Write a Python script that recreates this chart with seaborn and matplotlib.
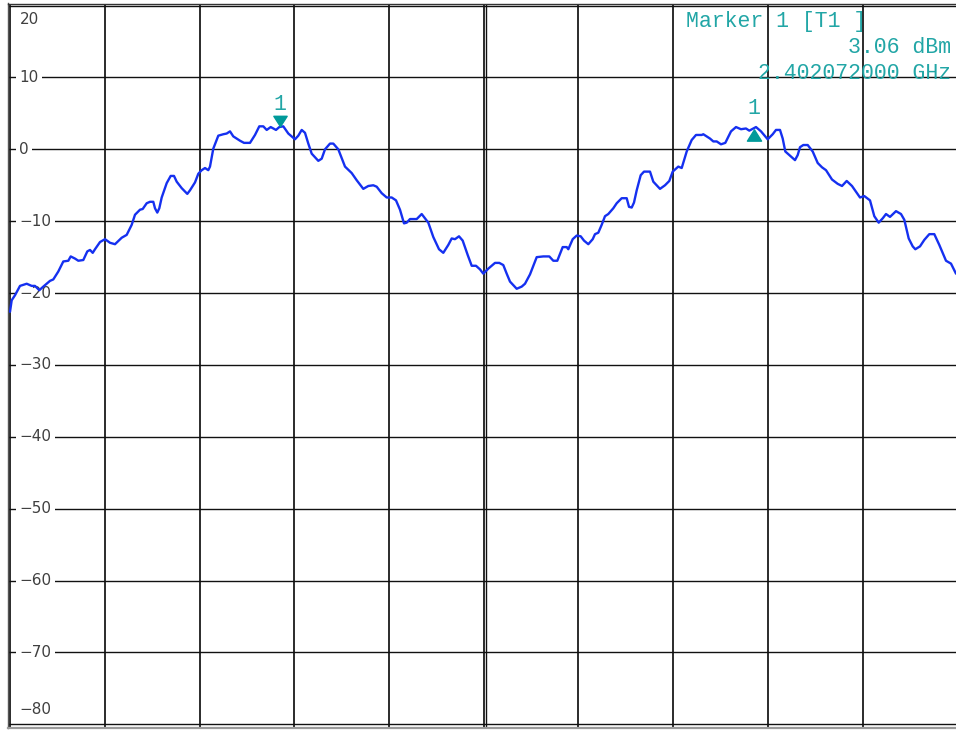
import matplotlib
matplotlib.use("Agg")
import matplotlib.pyplot as plt
from matplotlib.path import Path
from matplotlib.transforms import offset_copy
import numpy as np
import pandas as pd
import seaborn as sns

# Trace: sweep position (points from left graticule edge) and level in dBm
sweep_pt = [0, 1.7, 5, 10, 16.7, 21.7, 25, 29.3, 33.3, 36.7, 40, 43.3, 48.3, 53.3,
            58.3, 60.7, 65, 68.3, 73.3, 77.3, 80, 82.7, 85, 90, 95, 100, 105, 111.7,
            116.7, 121.7, 125, 130, 132.7, 136.7, 140, 143.3, 145, 147.3, 149.3, 151.7,
            156.7, 160.7, 164, 166.7, 171.7, 177.3, 180, 185, 188.3, 191.7, 195, 198.3,
            200, 203.3, 208.3, 213.3, 216.7, 220, 223.3, 230, 234, 240, 245, 249.3,
            253.3, 256.7, 260.7, 263.3, 266, 269.3, 273.3, 278.3, 285, 288.3, 291.7,
            295, 298.3, 301.7, 308.3, 311.7, 315, 320, 323.3, 328.3, 335, 341.7, 346.7,
            353.3, 358.3, 363.3, 366.7, 371.7, 376.7, 381.7, 386, 390, 394, 396.7, 400,
            406.7, 411.7, 418.3, 423.3, 429, 433.3, 438.3, 441.7, 445, 449, 452.7, 457.7,
            461.7, 466, 470, 473.3, 478.3, 485, 489.3, 493.3, 496.7, 500, 506.7, 511.7,
            515, 520, 526.7, 533.3, 539.3, 543.3, 547.3, 552.7, 556.7, 558.3, 562.7,
            566.7, 570.7, 574, 578.3, 582.7, 585, 588.3, 591.7, 595, 598.3, 603.3, 606.7,
            611.7, 616.7, 619, 621.7, 624, 626.7, 630.7, 634, 640, 643.3, 650, 655,
            659.3, 662.7, 668.3, 671.7, 676.7, 681.7, 686, 691.7, 693.3, 700, 703.3,
            706.7, 711, 715.3, 721, 726, 731, 736, 739.3, 746, 751, 757.7, 762.7, 766,
            770, 772.7, 775.3, 779.3, 785, 787.7, 790, 793.3, 797.7, 802.7, 807.7, 812,
            816, 822, 827.7, 832, 836.7, 842, 846, 850, 854.3, 860, 864.3, 868.7, 872.7,
            876, 880, 886, 891, 894.3, 898.7, 902.7, 905.3, 910, 914.3, 919.3, 924.3,
            929.3, 936, 941, 946]
level_dbm = [-22.6, -21.0, -20.3, -19.0, -18.7, -19.0, -19.0, -19.6, -19.1, -18.7,
             -18.3, -18.1, -17.0, -15.6, -15.5, -14.9, -15.2, -15.5, -15.4, -14.2,
             -14.0, -14.4, -13.9, -12.9, -12.5, -13.0, -13.2, -12.3, -11.9, -10.5,
             -9.1, -8.4, -8.3, -7.5, -7.3, -7.3, -8.2, -8.8, -8.2, -6.7, -4.7, -3.7,
             -3.7, -4.5, -5.4, -6.2, -5.7, -4.6, -3.4, -2.9, -2.6, -2.9, -2.4, 0.1,
             1.9, 2.1, 2.2, 2.5, 1.8, 1.2, 0.9, 0.9, 2.0, 3.2, 3.2, 2.7, 3.1, 2.9,
             2.7, 3.1, 3.2, 2.2, 1.4, 1.9, 2.7, 2.3, 0.8, -0.6, -1.6, -1.3, 0.0, 0.8,
             0.8, 0.0, -2.4, -3.3, -4.3, -5.5, -5.1, -5.0, -5.2, -6.1, -6.7, -6.7,
             -7.1, -8.4, -10.3, -10.2, -9.7, -9.7, -9.0, -10.2, -12.2, -13.9, -14.4,
             -13.3, -12.4, -12.5, -12.1, -12.7, -14.7, -16.2, -16.2, -16.7, -17.3,
             -16.6, -15.8, -15.8, -16.1, -17.3, -18.4, -19.4, -19.1, -18.7, -17.4,
             -15.0, -14.9, -14.9, -15.5, -15.5, -13.6, -13.6, -13.9, -12.5, -12.0,
             -12.1, -12.7, -13.2, -12.5, -11.8, -11.6, -10.5, -9.3, -9.0, -8.2, -7.5,
             -6.8, -6.8, -8.0, -8.1, -7.4, -5.7, -3.6, -3.1, -3.1, -4.5, -5.5, -5.0,
             -4.4, -3.1, -2.4, -2.6, -0.3, 1.3, 2.0, 2.0, 2.1, 1.5, 1.1, 1.1, 0.7,
             0.9, 2.5, 3.1, 2.8, 2.9, 2.6, 3.1, 2.5, 1.4, 2.1, 2.7, 2.7, 1.5, -0.3,
             -0.8, -1.5, -0.8, 0.3, 0.6, 0.6, -0.3, -1.9, -2.5, -2.9, -4.2, -4.8,
             -5.1, -4.4, -5.1, -5.9, -6.7, -6.5, -7.1, -9.3, -10.2, -9.6, -9.0, -9.4,
             -8.6, -9.0, -9.8, -12.4, -13.5, -13.9, -13.5, -12.6, -11.8, -11.8, -13.3,
             -15.5, -15.9, -17.3]

# Reference level scale
level_ticks = [10, 0, -10, -20, -30, -40, -50, -60, -70]
edge_labels = [(20, "20"), (-80, "−80")]

# Markers
marker_pts = [270, 744]
marker_level = 3.06
marker_freq_text = "2.402072000 GHz"

TRACE = "#1530f0"
TEAL_TEXT = "#22a6a6"
TEAL_MARK = "#009a9a"
GRID = "#111111"

sns.set_style("white")
plt.rcParams["font.family"] = ["DejaVu Sans"]

W, H = 956, 731
fig = plt.figure(figsize=(W / 100, H / 100), dpi=100)
ax = fig.add_axes([7.5 / W, (H - 728) / H, (957 - 7.5) / W, (728 - 3.5) / H])
ax.set_xlim(-2.5, 947)
ax.set_ylim(-80.51, 20.29)
ax.set_xticks([])
ax.set_yticks([])

ax.spines["right"].set_visible(False)
ax.spines["left"].set_color("#555555")
ax.spines["left"].set_linewidth(1.0)
ax.spines["top"].set_color("#333333")
ax.spines["top"].set_linewidth(1.0)
ax.spines["bottom"].set_color("#9a9a9a")
ax.spines["bottom"].set_linewidth(1.6)

# Graticule: 10 divisions horizontally, 10 dB per division vertically
div = 94.7
for k in range(11):
    ax.axvline(0.3 + k * div, color=GRID, lw=1.25, zorder=1)
ax.axvline(476, color=GRID, lw=1.0, zorder=1)
for lv in [20] + level_ticks + [-80]:
    ax.axhline(lv, color=GRID, lw=1.0, zorder=1)

LABEL_SIZE = 11
label_kw = dict(ha="left", va="center", fontsize=LABEL_SIZE, color="#404040", zorder=2,
                bbox=dict(boxstyle="square,pad=0.2", fc="white", ec="none"))
for lv in level_ticks:
    txt = str(lv).replace("-", "−")
    ax.text(9.5, lv, txt, **label_kw)
for lv, txt in edge_labels:
    ax.text(9.5, lv - 2 if lv > 0 else lv + 2, txt,
            ha="left", va="center", fontsize=LABEL_SIZE, color="#404040", zorder=2)

df = pd.DataFrame({"pt": sweep_pt, "dbm": level_dbm})
sns.lineplot(data=df, x="pt", y="dbm", ax=ax, color=TRACE, lw=1.7,
             estimator=None, sort=False, zorder=3)
ax.set_xlabel("")
ax.set_ylabel("")

# Marker triangles
tri_down = Path([(-1, 0.78), (1, 0.78), (0, -0.78), (-1, 0.78)],
                [Path.MOVETO, Path.LINETO, Path.LINETO, Path.CLOSEPOLY])
tri_up = Path([(-1, -0.8), (1, -0.8), (0, 0.8), (-1, -0.8)],
              [Path.MOVETO, Path.LINETO, Path.LINETO, Path.CLOSEPOLY])
tr1 = offset_copy(ax.transData, fig=fig, x=0, y=6.8, units="dots")
tr2 = offset_copy(ax.transData, fig=fig, x=0, y=-7.7, units="dots")
ax.plot([marker_pts[0]], [marker_level], marker=tri_down, ms=9.6, color=TEAL_MARK,
        ls="none", transform=tr1, zorder=4)
ax.plot([marker_pts[1]], [marker_level], marker=tri_up, ms=10.2, color=TEAL_MARK,
        ls="none", transform=tr2, zorder=4)

mono = ["Liberation Mono", "DejaVu Sans Mono"]
for x, dy in zip(marker_pts, [23, 19]):
    ax.annotate("1", (x, marker_level), xytext=(0, dy), textcoords="offset pixels",
                ha="center", va="center", fontsize=15.5, family=mono,
                color=TEAL_TEXT, zorder=4)

def fig_text(px, py, s, ha):
    fig.text(px / W, 1 - py / H, s, ha=ha, va="center", fontsize=15.5,
             family=mono, color=TEAL_TEXT, zorder=5)

fig_text(686, 21, "Marker 1 [T1 ]", "left")
fig_text(951, 47.5, f"{marker_level:.2f} dBm", "right")
fig_text(951, 73.5, marker_freq_text, "right")

fig.savefig("out.png", dpi=100)
